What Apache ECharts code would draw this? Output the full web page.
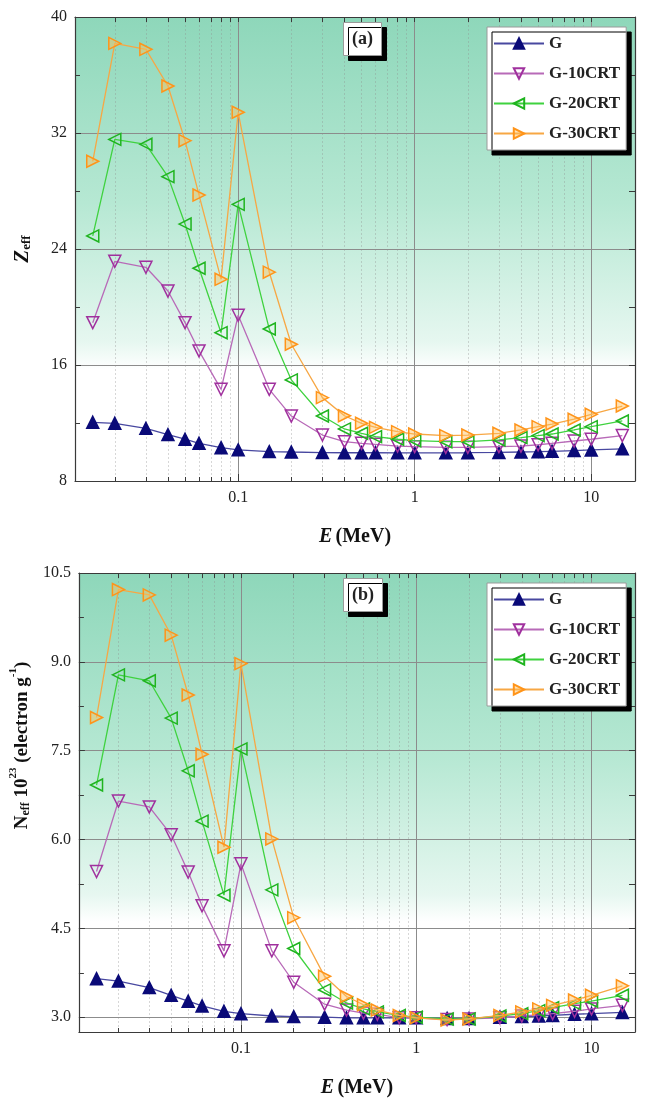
<!DOCTYPE html>
<html>
<head>
<meta charset="utf-8">
<script src="https://cdn.jsdelivr.net/npm/echarts@6/dist/echarts.min.js"></script>
<style>
  html, body { margin: 0; padding: 0; background: #fff; }
  #chart { width: 645px; height: 1104px; }
</style>
</head>
<body>
<div id="chart"></div>
<script>
  // photon energy (MeV)
  const energy = [0.015, 0.02, 0.03, 0.04, 0.05, 0.06, 0.08, 0.1, 0.15, 0.2, 0.3, 0.4, 0.5,
    0.6, 0.8, 1, 1.5, 2, 3, 4, 5, 6, 8, 10, 15];
  const seriesNames = ['G', 'G-10CRT', 'G-20CRT', 'G-30CRT'];

  // (a) Zeff
  const zeffG = [12.05, 11.98, 11.63, 11.2, 10.88, 10.6, 10.3, 10.15, 10.03, 10.0, 9.96, 9.95, 9.95,
    9.95, 9.94, 9.94, 9.94, 9.95, 9.97, 10.0, 10.02, 10.05, 10.1, 10.14, 10.22];
  const zeff10 = [18.92, 23.15, 22.74, 21.1, 18.92, 16.97, 14.32, 19.43, 14.32, 12.48, 11.17, 10.71, 10.6,
    10.53, 10.41, 10.37, 10.32, 10.32, 10.37, 10.41, 10.5, 10.6, 10.76, 10.88, 11.13];
  const zeff20 = [24.9, 31.56, 31.22, 28.99, 25.72, 22.67, 18.23, 27.08, 18.48, 14.97, 12.48, 11.59, 11.29,
    11.06, 10.88, 10.78, 10.71, 10.71, 10.83, 10.99, 11.13, 11.24, 11.52, 11.75, 12.14];
  const zeff30 = [30.05, 38.18, 37.77, 35.24, 31.47, 27.72, 21.91, 33.43, 22.4, 17.43, 13.75, 12.5, 11.98,
    11.7, 11.4, 11.24, 11.13, 11.17, 11.29, 11.52, 11.75, 11.93, 12.26, 12.6, 13.17];

  // (b) Neff x 10^23 (electron/g)
  const neffG = [3.65, 3.61, 3.5, 3.37, 3.27, 3.19, 3.1, 3.06, 3.02, 3.01, 3.0, 2.99, 2.99,
    2.99, 2.99, 2.99, 2.98, 2.98, 3.0, 3.01, 3.02, 3.03, 3.05, 3.06, 3.08];
  const neff10 = [5.46, 6.65, 6.55, 6.08, 5.45, 4.88, 4.12, 5.59, 4.12, 3.59, 3.22, 3.12, 3.07,
    3.05, 2.99, 2.99, 2.96, 2.97, 2.99, 3.02, 3.04, 3.06, 3.1, 3.14, 3.2];
  const neff20 = [6.92, 8.78, 8.68, 8.05, 7.16, 6.31, 5.06, 7.53, 5.15, 4.16, 3.46, 3.24, 3.14,
    3.09, 3.03, 3.0, 2.97, 2.97, 3.02, 3.06, 3.11, 3.16, 3.23, 3.27, 3.37];
  const neff30 = [8.06, 10.22, 10.13, 9.45, 8.44, 7.44, 5.87, 8.97, 6.01, 4.68, 3.69, 3.35, 3.21,
    3.12, 3.03, 2.99, 2.95, 2.97, 3.03, 3.09, 3.14, 3.2, 3.29, 3.37, 3.53];

  // axis ticks
  const xMajor = [0.1, 1, 10];
  const xMinor = [0.02, 0.03, 0.04, 0.05, 0.06, 0.07, 0.08, 0.09, 0.2, 0.3, 0.4, 0.5, 0.6, 0.7, 0.8, 0.9,
    2, 3, 4, 5, 6, 7, 8, 9];
  const zMajor = [8, 16, 24, 32, 40];
  const zMinor = [12, 20, 28, 36];
  const nMajor = [3.0, 4.5, 6.0, 7.5, 9.0, 10.5];
  const nMinor = [3.75, 5.25, 6.75, 8.25, 9.75];

  const serif = 'Liberation Serif';
  const axisColor = '#3a3a3a';

  const styles = [
    {line: '#4848a0', color: '#0a0a78', fill: '#0a0a78', symbol: 'triangle', rotate: 0, size: 12},
    {line: '#b86ab8', color: '#a0309e', fill: 'rgba(255,255,255,0)', symbol: 'triangle', rotate: 180, size: 12},
    {line: '#3fd23f', color: '#1fb41f', fill: 'rgba(255,255,255,0)', symbol: 'triangle', rotate: 90, size: 12},
    {line: '#f7a744', color: '#ff9419', fill: 'rgba(255,190,90,0.45)', symbol: 'triangle', rotate: -90, size: 12}
  ];

  const grids = [
    {left: 75, top: 17, width: 560, height: 464},
    {left: 76, top: 573, width: 559, height: 459}
  ];

  function gridBox (g) {
    return Object.assign({
      show: true,
      borderWidth: 0,
      backgroundColor: {
        type: 'linear', x: 0, y: 0, x2: 0, y2: 1,
        colorStops: [
          {offset: 0, color: '#8ed7ba'},
          {offset: 0.4, color: '#b6e8d3'},
          {offset: 0.7, color: '#e6f7f0'},
          {offset: 0.76, color: '#ffffff'},
          {offset: 1, color: '#ffffff'}
        ]
      }
    }, g);
  }

  function xAxes (gi) {
    const base = {type: 'log', logBase: 10, gridIndex: gi, min: 0.0119, max: 17.7};
    return [
      Object.assign({}, base, {
        position: 'bottom',
        name: '{i|E} {n|(MeV)}',
        nameLocation: 'middle',
        nameGap: 46,
        nameTextStyle: {
          rich: {
            i: {fontFamily: serif, fontSize: 20, fontWeight: 'bold', fontStyle: 'italic', color: '#111'},
            n: {fontFamily: serif, fontSize: 20, fontWeight: 'bold', color: '#111'}
          }
        },
        axisLine: {show: true, onZero: false, lineStyle: {color: axisColor, width: 1.2}},
        axisTick: {show: true, inside: true, length: 7, customValues: xMajor, lineStyle: {color: axisColor}},
        axisLabel: {show: true, customValues: xMajor, margin: 9, fontFamily: serif, fontSize: 16, color: '#222',
          formatter: function (v) { return String(v); }},
        splitLine: {show: true, lineStyle: {color: '#8c8c8c', width: 1}}
      }),
      Object.assign({}, base, {
        position: 'bottom',
        axisLine: {show: false, onZero: false},
        axisTick: {show: true, inside: true, length: 4, customValues: xMinor, lineStyle: {color: axisColor}},
        axisLabel: {show: false},
        splitLine: {show: true, lineStyle: {color: 'rgba(140,140,140,0.35)', width: 1, type: [2, 2]}}
      }),
      Object.assign({}, base, {
        position: 'top',
        axisLine: {show: true, onZero: false, lineStyle: {color: axisColor, width: 1.2}},
        axisTick: {show: true, inside: true, length: 5, customValues: xMajor.concat(xMinor), lineStyle: {color: axisColor}},
        axisLabel: {show: false},
        splitLine: {show: false}
      })
    ];
  }

  function yAxes (gi, min, max, major, minor, fmt, name, nameStyle) {
    const base = {type: 'value', gridIndex: gi, min: min, max: max};
    return [
      Object.assign({}, base, {
        position: 'left',
        name: name,
        nameLocation: 'middle',
        nameGap: 42,
        nameRotate: 90,
        nameTextStyle: nameStyle,
        axisLine: {show: true, onZero: false, lineStyle: {color: axisColor, width: 1.2}},
        axisTick: {show: true, inside: true, length: 6, customValues: major, lineStyle: {color: axisColor}},
        axisLabel: {show: true, customValues: major, margin: 8, fontFamily: serif, fontSize: 16, color: '#222', formatter: fmt},
        splitLine: {show: true, lineStyle: {color: '#8c8c8c', width: 1}}
      }),
      Object.assign({}, base, {
        position: 'left',
        axisLine: {show: false, onZero: false},
        axisTick: {show: true, inside: true, length: 5, customValues: minor, lineStyle: {color: axisColor}},
        axisLabel: {show: false},
        splitLine: {show: false}
      }),
      Object.assign({}, base, {
        position: 'right',
        axisLine: {show: true, onZero: false, lineStyle: {color: axisColor, width: 1.2}},
        axisTick: {show: true, inside: true, length: 6, customValues: major.concat(minor), lineStyle: {color: axisColor}},
        axisLabel: {show: false},
        splitLine: {show: false}
      })
    ];
  }

  function makeSeries (gi, dataSets) {
    return dataSets.map(function (vals, k) {
      const s = styles[k];
      return {
        name: seriesNames[k],
        type: 'line',
        xAxisIndex: gi * 3,
        yAxisIndex: gi * 3,
        data: energy.map(function (e, i) { return [e, vals[i]]; }),
        symbol: s.symbol,
        symbolRotate: s.rotate,
        symbolSize: s.size,
        showAllSymbol: true,
        lineStyle: {color: s.line, width: 1.3},
        itemStyle: {color: s.fill, borderColor: s.color, borderWidth: 1.5},
        z: 3 + k,
        animation: false
      };
    });
  }

  function legend (gi, top) {
    return {
      orient: 'vertical',
      left: 487,
      top: top,
      data: seriesNames,
      itemWidth: 50,
      itemHeight: 13,
      itemGap: 13,
      padding: [8, 6, 8, 6],
      backgroundColor: '#ffffff',
      borderColor: '#9a9a9a',
      borderWidth: 1,
      shadowColor: '#000',
      shadowBlur: 0,
      shadowOffsetX: 5,
      shadowOffsetY: 5,
      textStyle: {fontFamily: serif, fontSize: 17, fontWeight: 'bold', color: '#222'}
    };
  }

  function panelTag (text, top) {
    return {
      text: text,
      left: 343,
      top: top,
      padding: [8, 9, 8, 9],
      backgroundColor: '#ffffff',
      borderColor: '#9a9a9a',
      borderWidth: 1,
      shadowColor: '#000',
      shadowBlur: 0,
      shadowOffsetX: 5,
      shadowOffsetY: 5,
      textStyle: {fontFamily: serif, fontSize: 18, fontWeight: 'bold', color: '#222'}
    };
  }

  const zName = {
    rich: {
      m: {fontFamily: serif, fontSize: 21, fontWeight: 'bold', fontStyle: 'italic', color: '#111', lineHeight: 24, verticalAlign: 'bottom'},
      s: {fontFamily: serif, fontSize: 13, fontWeight: 'bold', color: '#111', lineHeight: 4, verticalAlign: 'bottom'}
    }
  };
  const nName = {
    padding: [0, 0, 0, 114],
    rich: {
      m: {fontFamily: serif, fontSize: 19, fontWeight: 'bold', color: '#111', lineHeight: 24, verticalAlign: 'bottom'},
      s: {fontFamily: serif, fontSize: 12, fontWeight: 'bold', color: '#111', lineHeight: 4, verticalAlign: 'bottom'},
      p: {fontFamily: serif, fontSize: 11, fontWeight: 'bold', color: '#111', lineHeight: 4, verticalAlign: 'top'}
    }
  };

  const chart = echarts.init(document.getElementById('chart'), null, {renderer: 'canvas'});
  chart.setOption({
    backgroundColor: '#ffffff',
    animation: false,
    title: [panelTag('(a)', 22), panelTag('(b)', 578)],
    legend: [legend(0, 27), legend(1, 583)],
    grid: [gridBox(grids[0]), gridBox(grids[1])],
    xAxis: xAxes(0).concat(xAxes(1)),
    yAxis: yAxes(0, 8, 40, zMajor, zMinor, function (v) { return String(v); }, '{m|Z}{s|eff}', zName)
      .concat(yAxes(1, 2.75, 10.5, nMajor, nMinor, function (v) { return v.toFixed(1); },
        '{m|N}{s|eff}{m| 10}{p|23}{m| (electron g}{p|-1}{m|)}', nName)),
    series: makeSeries(0, [zeffG, zeff10, zeff20, zeff30]).concat(makeSeries(1, [neffG, neff10, neff20, neff30]))
  });
</script>
</body>
</html>
